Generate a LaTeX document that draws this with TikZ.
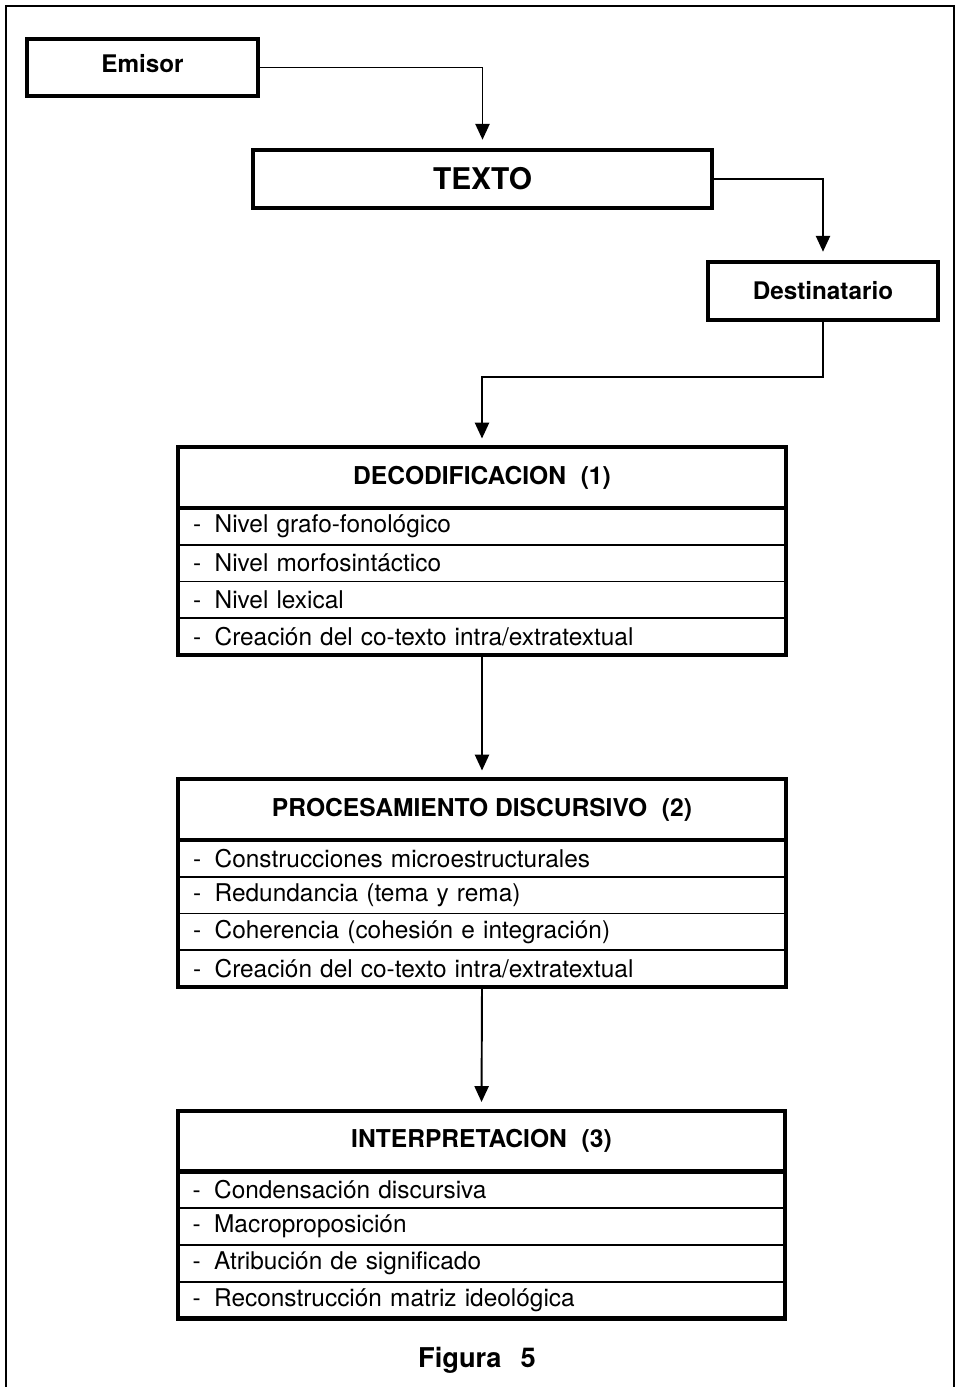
\documentclass[tikz,border=0pt]{standalone}
\usepackage{fontspec}
\setmainfont{TeX Gyre Heros}
\usetikzlibrary{positioning,arrows.meta}

\tikzset{
  pageframe/.style={line width=1.2pt},
  smallbox/.style={draw, line width=2.3pt, font=\bfseries\fontsize{13.8}{16}\selectfont, minimum height=1.15cm, inner sep=0pt},
  headrow/.style={draw, line width=2.3pt, font=\bfseries\fontsize{14}{16}\selectfont, minimum width=12.16cm, minimum height=1.22cm, inner sep=0pt, outer sep=0pt},
  rowbox/.style={draw, line width=1.1pt, font=\fontsize{13.9}{16}\selectfont, minimum width=12.16cm, minimum height=0.735cm, text width=11.56cm, align=left, inner xsep=0.3cm, inner ysep=0pt, outer sep=0pt, below=0pt of #1},
  boxedge/.style={line width=2.3pt},
  conn/.style={line width=1.1pt, -{Triangle[width=8pt,length=9pt]}, shorten >=0.17cm},
}

\begin{document}
\begin{tikzpicture}[x=0.02cm, y=-0.02cm]

    \useasboundingbox (0,0) rectangle (957,1387);

    %% Page frame (open at the bottom)
    \draw[pageframe] (6,1387) |- (954,6) -- (954,1387);

    %% Communication chain

    % Sender, text, receiver
    \node[smallbox, minimum width=4.62cm, text depth=0.18cm] (emisor) at (142.5,67.5) {Emisor};
    \node[smallbox, minimum width=9.18cm, font=\bfseries\fontsize{17}{19}\selectfont] (texto) at (482.5,179) {TEXTO};
    \node[smallbox, minimum width=4.6cm] (dest) at (823,291) {Destinatario};

    %% Stages

    % Decoding
    \node[headrow] (dec) at (482,477.5) {DECODIFICACION\hspace{0.6em}(1)};
    \node[rowbox=dec] (dec1) {-\hspace{0.55em}Nivel grafo-fonológico};
    \node[rowbox=dec1] (dec2) {-\hspace{0.55em}Nivel morfosintáctico};
    \node[rowbox=dec2] (dec3) {-\hspace{0.55em}Nivel lexical};
    \node[rowbox=dec3] (dec4) {-\hspace{0.55em}Creación del co-texto intra/extratextual};
    \draw[boxedge] (dec.north west) rectangle (dec4.south east);

    % Discourse processing
    \node[headrow] (proc) at (482,809.5) {PROCESAMIENTO DISCURSIVO\hspace{0.6em}(2)};
    \node[rowbox=proc] (proc1) {-\hspace{0.55em}Construcciones microestructurales};
    \node[rowbox=proc1] (proc2) {-\hspace{0.55em}Redundancia (tema y rema)};
    \node[rowbox=proc2] (proc3) {-\hspace{0.55em}Coherencia (cohesión e integración)};
    \node[rowbox=proc3] (proc4) {-\hspace{0.55em}Creación del co-texto intra/extratextual};
    \draw[boxedge] (proc.north west) rectangle (proc4.south east);

    % Interpretation
    \node[headrow] (interp) at (481.5,1141) {INTERPRETACION\hspace{0.6em}(3)};
    \node[rowbox=interp] (interp1) {-\hspace{0.55em}Condensación discursiva};
    \node[rowbox=interp1] (interp2) {-\hspace{0.55em}Macroproposición};
    \node[rowbox=interp2] (interp3) {-\hspace{0.55em}Atribución de significado};
    \node[rowbox=interp3] (interp4) {-\hspace{0.55em}Reconstrucción matriz ideológica};
    \draw[boxedge] (interp.north west) rectangle (interp4.south east);

    %% Arrows
    \draw[conn] (emisor.east) -| (texto.north);
    \draw[conn] (texto.east) -| (dest.north);
    \draw[conn] (dest.south) -- ++(0,55) -| (dec.north);
    \draw[conn] (dec4.south) -- (proc.north);
    \draw[conn] (proc4.south) -- (interp.north);

    % Caption
    \node[font=\bfseries\fontsize{15.5}{18}\selectfont] (caption) at (477,1360) {Figura\hspace{0.7em}5};

\end{tikzpicture}
\end{document}
